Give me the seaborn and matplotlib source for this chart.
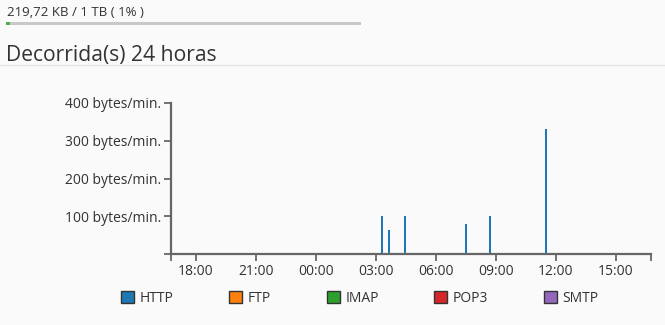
import matplotlib
matplotlib.use("Agg")
import matplotlib.pyplot as plt
from matplotlib.patches import Patch, Rectangle
from matplotlib.lines import Line2D
import seaborn as sns
import pandas as pd

# ---- data ----
usage_text = "219,72 KB / 1 TB ( 1% )"
title_text = "Decorrida(s) 24 horas"
times = ["03:18", "03:38", "04:27", "07:31", "08:42", "11:31"]
values = [100, 64, 100, 80, 100, 330]
tick_hours = [18, 21, 24, 27, 30, 33, 36, 39]
tick_labels = ["18:00", "21:00", "00:00", "03:00", "06:00", "09:00", "12:00", "15:00"]
y_ticks = [100, 200, 300, 400]
y_labels = ["100 bytes/min.", "200 bytes/min.", "300 bytes/min.", "400 bytes/min."]
services = ["HTTP", "FTP", "IMAP", "POP3", "SMTP"]
service_colors = ["#1f77b4", "#ff7f0e", "#2ca02c", "#d62728", "#9467bd"]
x_start, x_end = 16.75, 40.75

def to_hours(s):
    h, m = s.split(":")
    h = int(h) + int(m) / 60
    return h + 24 if h < x_start else h

df = pd.DataFrame({"hour": [to_hours(t) for t in times], "value": values})

sns.set_theme(style="white")
plt.rcParams["font.family"] = ["Open Sans", "DejaVu Sans"]
BG = "#fafafa"
TXT = "#333333"
AX = "#666666"
FS = 10

fig = plt.figure(figsize=(6.65, 3.25), dpi=100, facecolor=BG)
ax = fig.add_axes([171/665, 1-254/325, 480/665, 151/325], facecolor=BG)

sns.barplot(data=df, x="hour", y="value", native_scale=True, width=0.3,
            color="#1f77b4", saturation=1, ax=ax, linewidth=0)

ax.set_xlim(x_start, x_end)
ax.set_ylim(0, 400)
ax.set_xticks([x_start] + tick_hours + [x_end])
ax.set_xticklabels([""] + tick_labels + [""], color=TXT, fontsize=FS)
ax.set_yticks([0] + y_ticks)
ax.set_yticklabels([""] + y_labels, color=TXT, fontsize=FS)
ax.set_xlabel("")
ax.set_ylabel("")
for side in ["top", "right"]:
    ax.spines[side].set_visible(False)
for side in ["left", "bottom"]:
    ax.spines[side].set_color(AX)
    ax.spines[side].set_linewidth(1.6)
ax.tick_params(axis="both", length=5, width=1.3, color=AX, pad=2,
               bottom=True, left=True)
ax.grid(False)

# header
fig.text(7/665, 1-12/325, usage_text, fontsize=9.5, color=TXT, va="center", ha="left")
fig.patches.append(Rectangle((6/665, 1-25/325), 355/665, 3.5/325,
                             transform=fig.transFigure, facecolor="#c8c8c8", edgecolor="none"))
fig.patches.append(Rectangle((6/665, 1-25/325), 3.5/665, 3.5/325,
                             transform=fig.transFigure, facecolor="#4caf50", edgecolor="none"))
fig.text(6/665, 1-55/325, title_text, fontsize=15.2, color=TXT, va="center", ha="left")
fig.add_artist(Line2D([0, 1], [1-64.5/325, 1-64.5/325], transform=fig.transFigure,
                      color="#e4e4e4", linewidth=1))

handles = [Patch(facecolor=c, edgecolor=TXT, linewidth=1, label=s)
           for s, c in zip(services, service_colors)]
leg = fig.legend(handles=handles, loc="center", bbox_to_anchor=(360/665, 1-298/325),
                 ncol=5, frameon=False, fontsize=FS, handlelength=0.94, handleheight=0.94,
                 handletextpad=0.4, columnspacing=4.0, borderaxespad=0, borderpad=0)
for t in leg.get_texts():
    t.set_color(TXT)

fig.savefig("out.png", dpi=100, facecolor=BG)
